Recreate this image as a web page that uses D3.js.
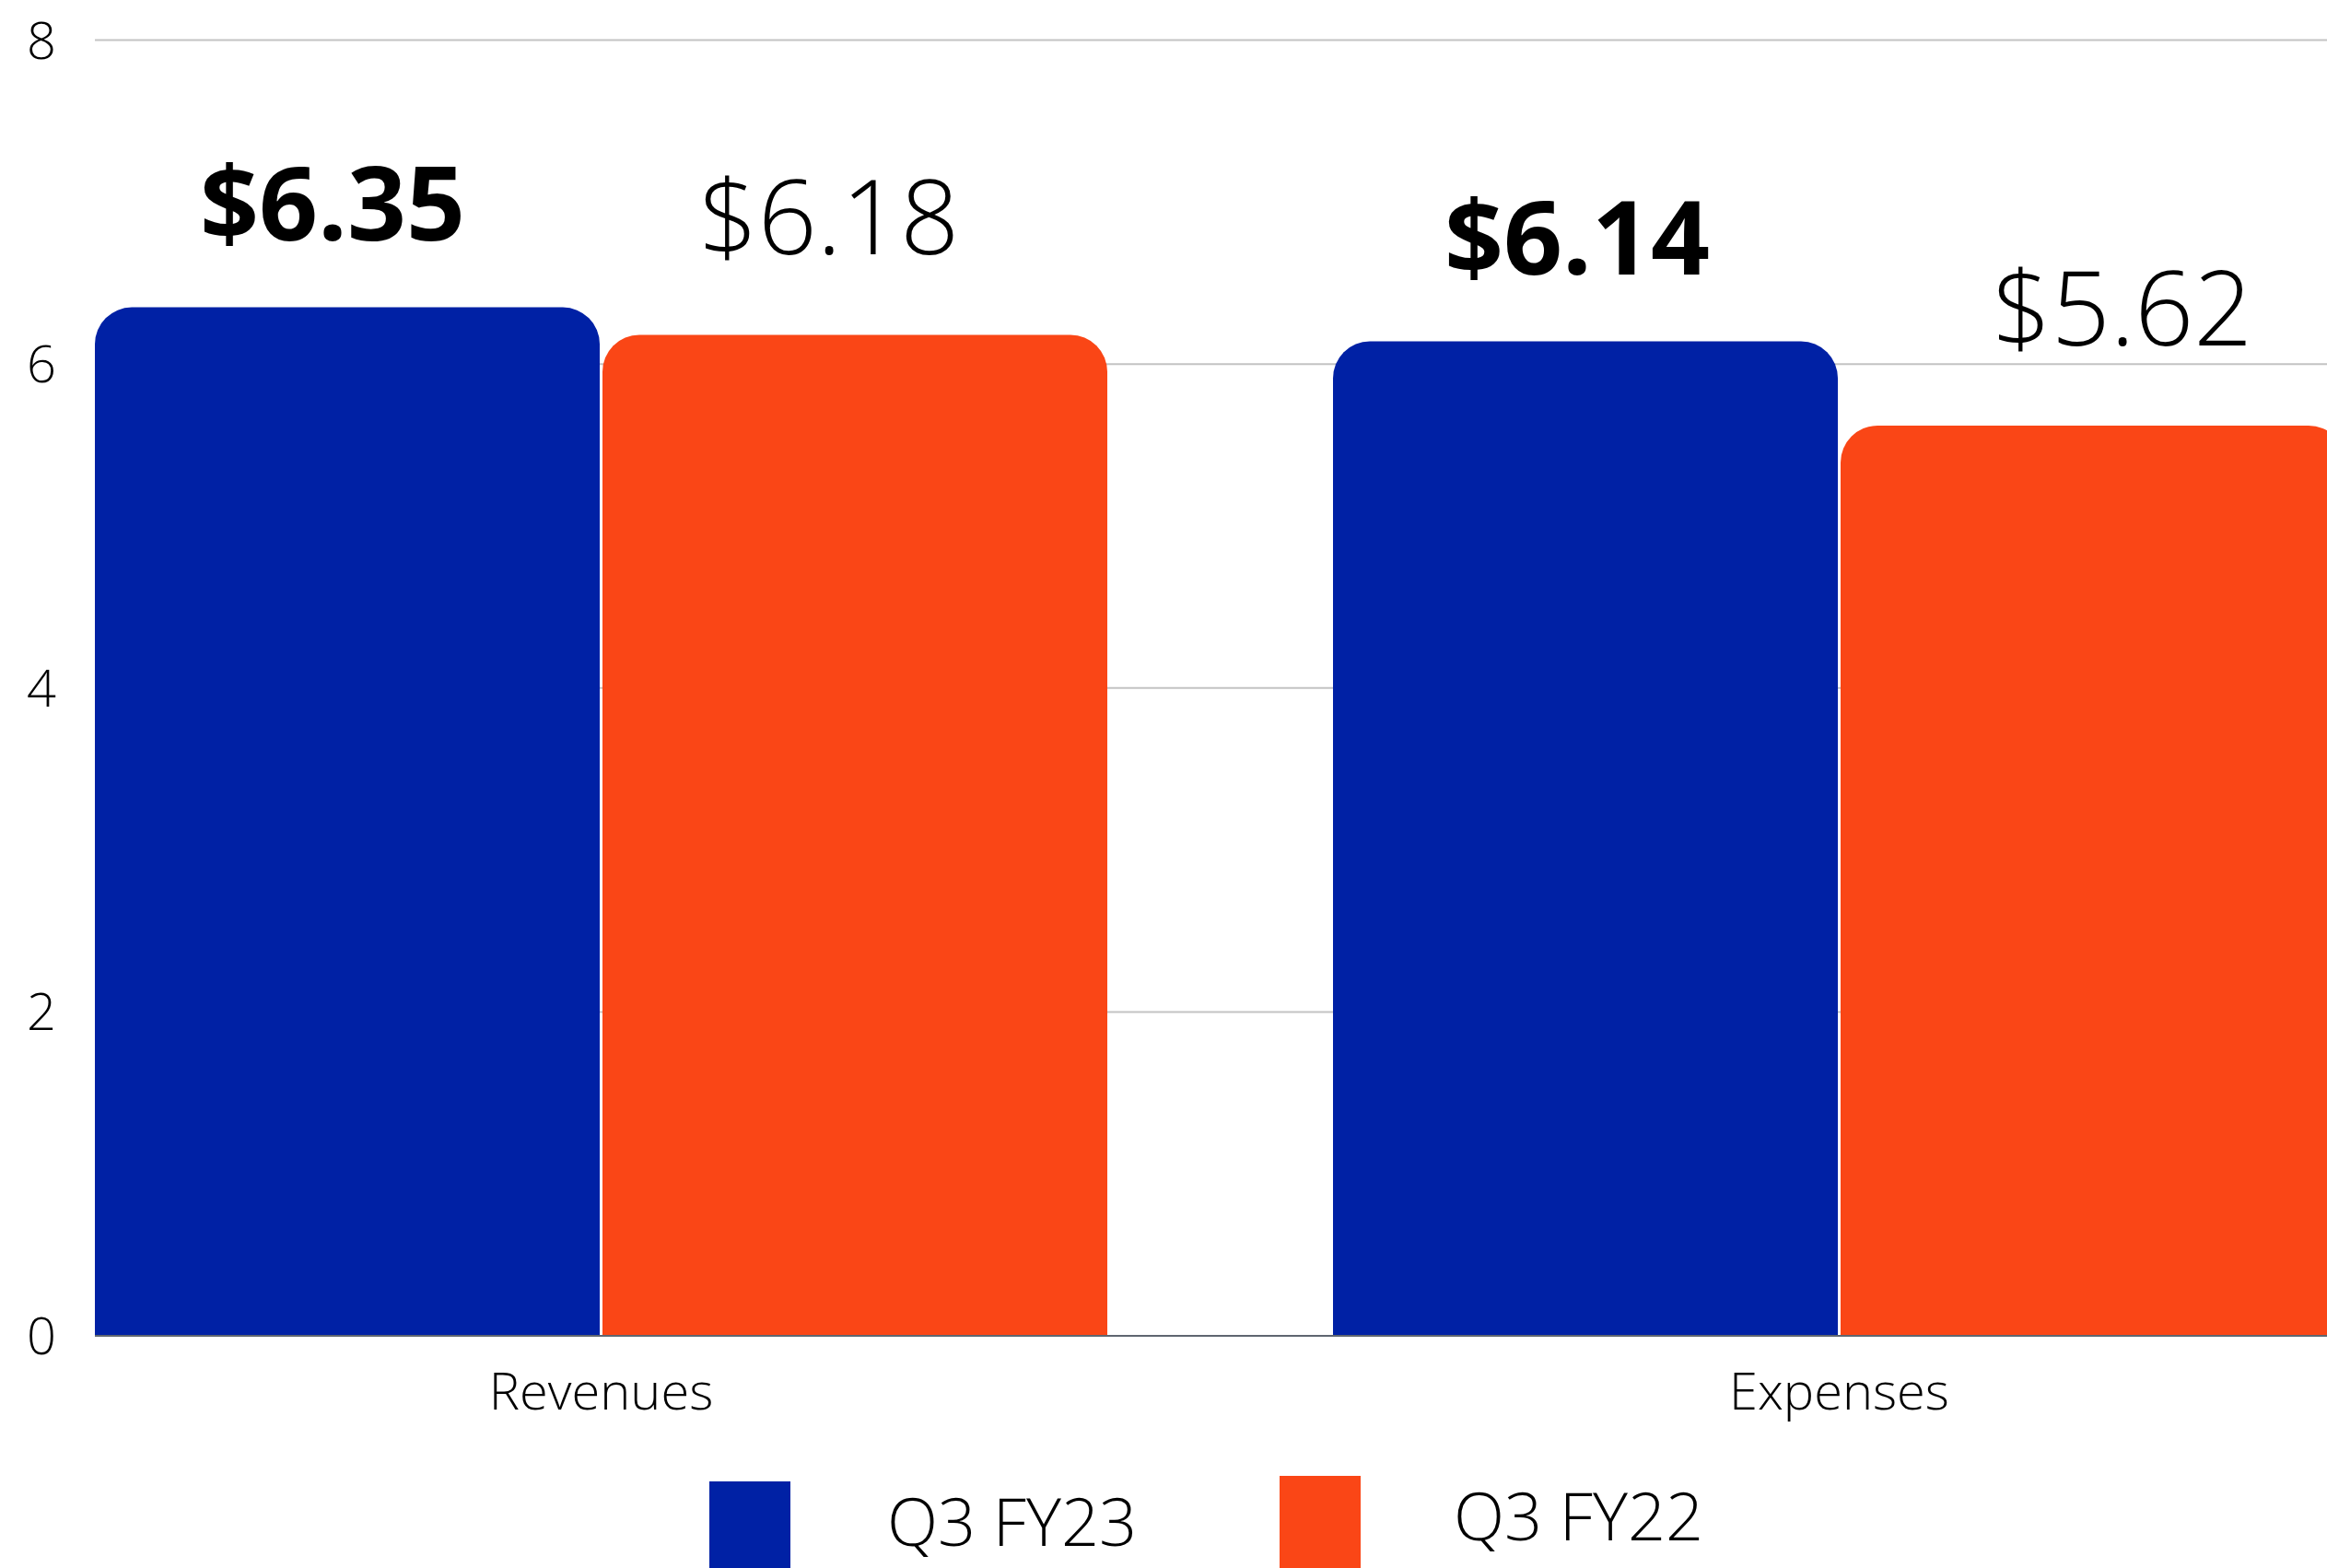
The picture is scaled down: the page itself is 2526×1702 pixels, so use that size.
<!DOCTYPE html>
<html>
<head>
<meta charset="utf-8">
<script src="https://cdn.jsdelivr.net/npm/d3@7/dist/d3.min.js"></script>
<style>
  html, body { margin: 0; padding: 0; background: #ffffff; overflow: hidden; }
  svg { display: block; font-family: "Open Sans", sans-serif; }
</style>
</head>
<body>
<svg id="chart" width="2526" height="1702"></svg>
<script>
// ---- data ----
const categories = ["Revenues", "Expenses"];
const seriesNames = ["Q3 FY23", "Q3 FY22"];
const valuesFY23 = [6.35, 6.14];
const valuesFY22 = [6.18, 5.62];
const seriesColors = ["#0021A5", "#FA4616"];
const yTickValues = [0, 2, 4, 6, 8];

const seriesValues = [valuesFY23, valuesFY22];

// ---- layout ----
const W = 2526, H = 1702;
const plotLeft = 103, plotRight = 2526;
const y0 = 1450, yTop = 43.5;
const bandStep = 1344, groupWidth = 1099;
const radius = 40;
// horizontal nudges of value labels [category][series]
const labelDx = [[-16, -28], [-9, 32]];

const svg = d3.select("#chart");

const y = d3.scaleLinear().domain([0, 8]).range([y0, yTop]);
const x0 = d3.scaleBand().domain(categories)
  .range([plotLeft, plotLeft + bandStep * categories.length])
  .paddingInner(0).paddingOuter(0);
const x1 = d3.scaleBand().domain(seriesNames)
  .range([0, groupWidth]).paddingInner(0.00544).paddingOuter(0);

// gridlines
svg.append("g").selectAll("line")
  .data(yTickValues.filter(d => d !== 0))
  .join("line")
  .attr("x1", plotLeft).attr("x2", plotRight)
  .attr("y1", d => y(d)).attr("y2", d => y(d))
  .attr("stroke", "#c3c3c3").attr("stroke-width", 2);

// y tick labels via axis
const yAxis = svg.append("g")
  .attr("transform", `translate(45,0)`)
  .call(d3.axisLeft(y).tickValues(yTickValues).tickSize(0).tickPadding(0).tickFormat(d3.format("d")));
yAxis.select(".domain").remove();
yAxis.selectAll("text")
  .attr("text-anchor", "middle")
  .attr("x", 0)
  .attr("dy", "0.35em")
  .style("font-family", "'Open Sans', sans-serif")
  .style("font-size", "56px")
  .style("font-weight", 300)
  .attr("fill", "#000");

// bars with rounded top corners
function topRounded(x, yy, w, h, r) {
  r = Math.min(r, w / 2, h);
  return `M${x},${yy + h}` +
    `V${yy + r}` +
    `A${r},${r} 0 0 1 ${x + r},${yy}` +
    `H${x + w - r}` +
    `A${r},${r} 0 0 1 ${x + w},${yy + r}` +
    `V${yy + h}Z`;
}

const barData = [];
categories.forEach((c, ci) => {
  seriesNames.forEach((s, si) => {
    barData.push({ cat: c, ci: ci, series: s, si: si, value: seriesValues[si][ci] });
  });
});

svg.append("g").selectAll("path")
  .data(barData)
  .join("path")
  .attr("d", d => {
    const bx = x0(d.cat) + x1(d.series);
    const by = y(d.value);
    return topRounded(bx, by, x1.bandwidth(), y(0) - by, radius);
  })
  .attr("fill", d => seriesColors[d.si]);

// x axis baseline
svg.append("line")
  .attr("x1", plotLeft).attr("x2", plotRight)
  .attr("y1", y(0)).attr("y2", y(0))
  .attr("stroke", "#5f6670").attr("stroke-width", 2);

// value labels
const fmt = d3.format("$.2f");
svg.append("g").selectAll("text")
  .data(barData)
  .join("text")
  .attr("x", d => x0(d.cat) + x1(d.series) + x1.bandwidth() / 2 + labelDx[d.ci][d.si])
  .attr("y", d => y(d.value) - (d.si === 0 ? 73 : 87))
  .attr("text-anchor", "middle")
  .style("font-size", "112px")
  .style("font-weight", d => d.si === 0 ? 700 : 300)
  .attr("fill", "#000")
  .text(d => fmt(d.value));

// category labels
svg.append("g").selectAll("text")
  .data(categories)
  .join("text")
  .attr("x", d => x0(d) + groupWidth / 2)
  .attr("y", 1530)
  .attr("text-anchor", "middle")
  .style("font-size", "56px")
  .style("font-weight", 300)
  .attr("fill", "#000")
  .text(d => d);

// legend
const legendItems = [
  { rx: 770, ry: 1608, tx: 963, ty: 1678 },
  { rx: 1389, ry: 1602, tx: 1578, ty: 1672 }
];
const lg = svg.append("g");
seriesNames.forEach((s, i) => {
  const p = legendItems[i];
  lg.append("rect")
    .attr("x", p.rx).attr("y", p.ry)
    .attr("width", 88).attr("height", 120)
    .attr("fill", seriesColors[i]);
  lg.append("text")
    .attr("x", p.tx).attr("y", p.ty)
    .style("font-size", "72px")
    .style("font-weight", 300)
    .attr("fill", "#000")
    .text(s);
});
</script>
</body>
</html>
